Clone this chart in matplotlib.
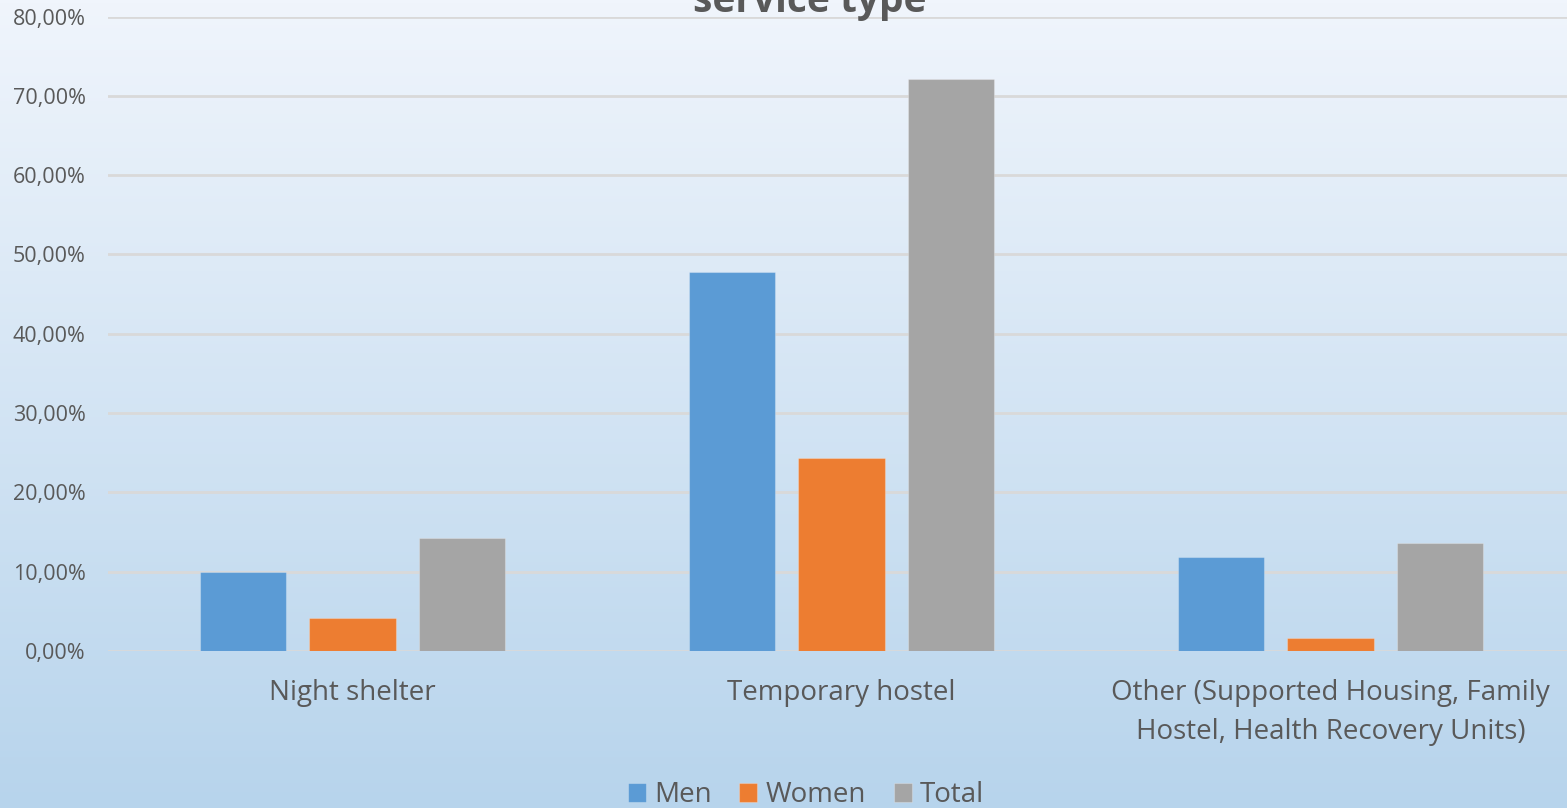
import numpy as np
import matplotlib
matplotlib.use("Agg")
import matplotlib.pyplot as plt
from matplotlib.ticker import FuncFormatter, MultipleLocator

categories = ["Night shelter", "Temporary hostel",
              "Other (Supported Housing, Family\nHostel, Health Recovery Units)"]
series_names = ["Men", "Women", "Total"]
men = [10.0, 47.75, 11.9]
women = [4.2, 24.3, 1.65]
total = [14.25, 72.1, 13.6]
colors = ["#5B9BD5", "#ED7D31", "#A5A5A5"]
title = "service type"

plt.rcParams['font.family'] = ['Open Sans', 'DejaVu Sans']
W, H = 1567, 808
fig = plt.figure(figsize=(W / 100, H / 100), dpi=100)

# gradient background
bg = fig.add_axes([0, 0, 1, 1], zorder=0)
top_c = np.array([240, 245, 252]) / 255
bot_c = np.array([183, 212, 236]) / 255
t = np.linspace(0, 1, 256)[:, None]
grad = top_c[None, :] * (1 - t) + bot_c[None, :] * t
bg.imshow(grad[:, None, :].repeat(2, axis=1), aspect='auto', extent=[0, 1, 0, 1])
bg.set_axis_off()

ax = fig.add_axes([108 / W, 1 - 651 / H, (1575 - 108) / W, (651 - 16.5) / H], zorder=1)
ax.patch.set_alpha(0)
x = np.arange(len(categories))
bw = 0.176
off = 0.223
for i, (vals, c) in enumerate(zip([men, women, total], colors)):
    ax.bar(x + (i - 1) * off, vals, width=bw, color=c, edgecolor=(1, 1, 1, 0.25),
           linewidth=0.8, zorder=3, label=series_names[i])

ax.set_xlim(-0.5, 2.5)
ax.set_ylim(0, 80)
ax.yaxis.set_major_locator(MultipleLocator(10))
ax.yaxis.set_major_formatter(FuncFormatter(lambda v, p: f"{v:.2f}%".replace('.', ',')))
ax.grid(axis='y', color='#D9D9D9', linewidth=2, zorder=0)
for s in ax.spines.values():
    s.set_visible(False)
ax.tick_params(axis='y', length=0, labelsize=15.5, labelcolor='#595959', pad=16)
ax.tick_params(axis='x', length=0, labelsize=20, labelcolor='#595959', pad=20)
ax.set_xticks(x)
ax.set_xticklabels(categories, linespacing=1.55)
ax.set_axisbelow(True)

fig.text(810 / W, 1 - 12 / H, title, ha='center', va='baseline', fontsize=28,
         fontweight='bold', color='#595959')

leg = fig.legend(loc='center', bbox_to_anchor=(806 / W, 1 - 795 / H), ncol=3,
                 frameon=False, fontsize=20, handlelength=0.65, handleheight=0.65,
                 handletextpad=0.3, columnspacing=1.0, labelcolor='#595959',
                 borderpad=0.1)

fig.savefig("out.png", dpi=100)
